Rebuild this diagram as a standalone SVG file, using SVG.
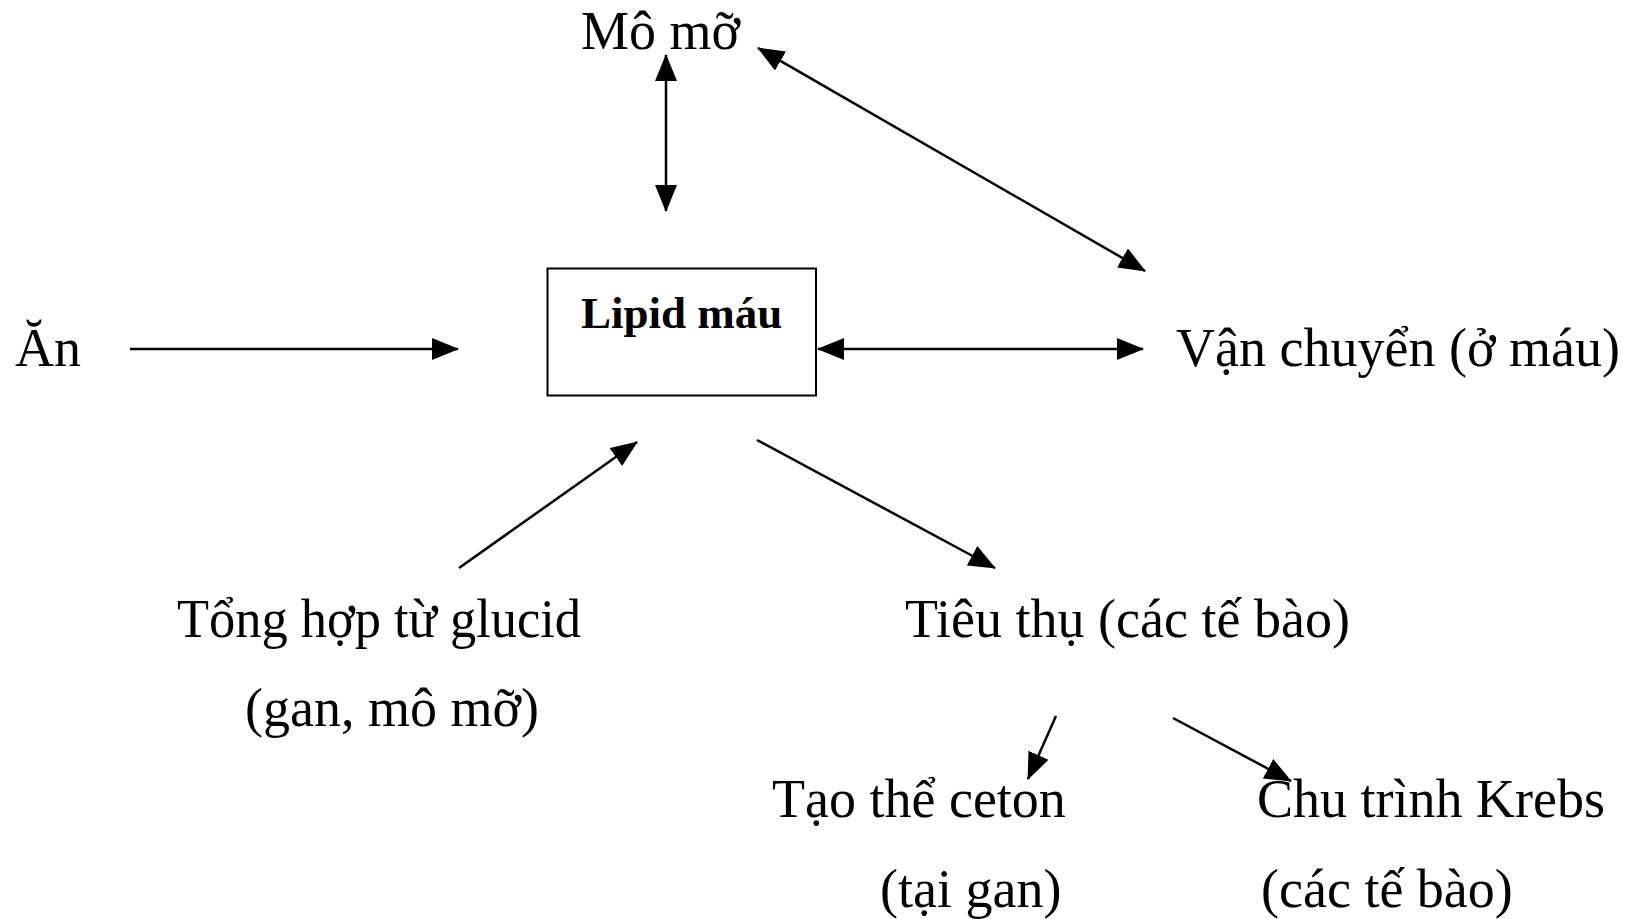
<svg xmlns="http://www.w3.org/2000/svg" width="1632" height="919" viewBox="0 0 1632 919">
<style>
  .t { font-family: "Liberation Serif", "Times New Roman", serif; font-size: 54px; fill: #000; }
  .b { font-family: "Liberation Serif", "Times New Roman", serif; font-size: 45px; font-weight: bold; fill: #000; }
  .c { stroke: #000; stroke-width: 2.5; fill: none; marker-end: url(#ah); }
  .d { marker-start: url(#ah); }
</style>
<defs>
  <marker id="ah" markerUnits="userSpaceOnUse" markerWidth="27" markerHeight="22" refX="26" refY="11" orient="auto-start-reverse">
    <path d="M0,0 L27,11 L0,22 z" fill="#000"/>
  </marker>
</defs>
<rect width="1632" height="919" fill="#fff"/>
<g id="connectors">
  <line class="c" x1="130" y1="349" x2="458" y2="349"/>
  <line class="c d" x1="818" y1="349" x2="1143" y2="349"/>
  <line class="c d" x1="666" y1="55" x2="666" y2="211"/>
  <line class="c d" x1="758" y1="48" x2="1145" y2="271"/>
  <line class="c" x1="459" y1="568" x2="637" y2="442"/>
  <line class="c" x1="757" y1="440" x2="995" y2="568"/>
  <line class="c" x1="1056" y1="716" x2="1028" y2="779"/>
  <line class="c" x1="1173" y1="718" x2="1291" y2="781"/>
</g>
<g id="lipid-mau">
  <rect x="547.5" y="268.5" width="268.5" height="127" fill="none" stroke="#000" stroke-width="2"/>
  <text class="b" x="581" y="328">Lipid máu</text>
</g>
<g id="mo-mo"><text class="t" x="581" y="49">Mô mỡ</text></g>
<g id="an"><text class="t" x="15" y="366">Ăn</text></g>
<g id="van-chuyen"><text class="t" x="1176" y="366">Vận chuyển (ở máu)</text></g>
<g id="tong-hop">
  <text class="t" x="177" y="637" textLength="404" lengthAdjust="spacingAndGlyphs">Tổng hợp từ glucid</text>
  <text class="t" x="245" y="726">(gan, mô mỡ)</text>
</g>
<g id="tieu-thu"><text class="t" x="905" y="637">Tiêu thụ (các tế bào)</text></g>
<g id="tao-the-ceton">
  <text class="t" x="772" y="817">Tạo thể ceton</text>
  <text class="t" x="880" y="907">(tại gan)</text>
</g>
<g id="chu-trinh-krebs">
  <text class="t" x="1257" y="817">Chu trình Krebs</text>
  <text class="t" x="1261" y="907">(các tế bào)</text>
</g>
</svg>
